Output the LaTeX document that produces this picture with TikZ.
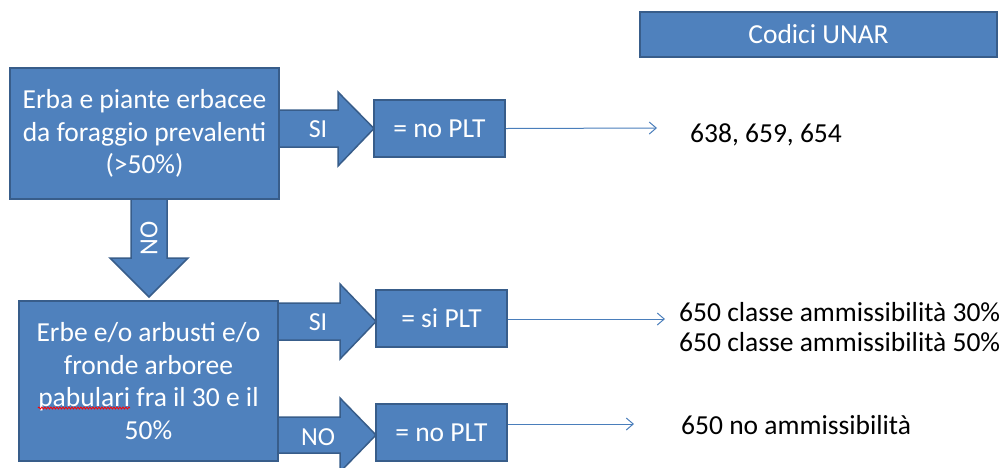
\documentclass[tikz,border=0pt]{standalone}
\usepackage{fontspec}
\setmainfont{Carlito}
\usetikzlibrary{arrows.meta,decorations.pathmorphing}
\definecolor{boxblue}{HTML}{4F81BD}
\definecolor{boxline}{HTML}{385D8A}
\definecolor{thinline}{HTML}{4A7EBB}
\tikzset{
  box/.style={draw=boxline, fill=boxblue, line width=2pt, text=white, align=center, inner sep=0pt, font=\fontsize{27.5}{32.5}\selectfont},
  blockarrow/.style={draw=boxline, fill=boxblue, line width=1.5pt, line join=miter},
  thinarrow/.style={draw=thinline, line width=1pt, -{Straight Barb[length=7pt,width=12pt]}},
  plain/.style={anchor=west, inner sep=0pt, font=\fontsize{27.5}{30}\selectfont, align=left},
  arrowlabel/.style={text=white, inner sep=0pt, font=\fontsize{26}{28}\selectfont},
  spell/.style={draw=red, line width=0.8pt, decorate, decoration={snake, amplitude=1pt, segment length=3pt}}
}
\begin{document}
\begin{tikzpicture}[x=1pt,y=-1pt]
\useasboundingbox (0,0) rectangle (1003,467);
% block arrows
\draw[blockarrow] (279,110) -- (338,110) -- (338,92) -- (374,128.5) -- (338,166) -- (338,147) -- (279,147) -- cycle;
\draw[blockarrow] (131,199) -- (131,258) -- (110,258) -- (149,297) -- (188,258) -- (167,258) -- (167,199) -- cycle;
\draw[blockarrow] (278,303) -- (340,303) -- (340,284) -- (376,321.5) -- (340,359) -- (340,340) -- (278,340) -- cycle;
\draw[blockarrow] (278,417) -- (340,417) -- (340,398) -- (376,435) -- (340,472) -- (340,453) -- (278,453) -- cycle;
% boxes
\node[box, minimum width=269pt, minimum height=131pt] (q1) at (144.5,133.5) {Erba e piante erbacee\\da foraggio prevalenti\\(>50\%)};
\node[box, minimum width=259pt, minimum height=160pt] (q2) at (148.5,381) {Erbe e/o arbusti e/o\\fronde arboree\\pabulari fra il 30 e il\\50\%};
\node[box, minimum width=131pt, minimum height=57pt] (r1) at (439.5,128.5) {= no PLT};
\node[box, minimum width=131pt, minimum height=57pt] (r2) at (441.5,318.5) {= si PLT};
\node[box, minimum width=131pt, minimum height=57pt] (r3) at (441.5,432.5) {= no PLT};
\node[box, minimum width=357pt, minimum height=45pt] (cod) at (818.5,34.5) {Codici UNAR};
\draw[spell] (38,408) -- (130,408);
% arrow labels
\node[arrowlabel] (l1) at (318,129) {SI};
\node[arrowlabel, rotate=90] (l2) at (149,238) {NO};
\node[arrowlabel] (l3) at (318,322) {SI};
\node[arrowlabel] (l4) at (318,437) {NO};
% result texts
\node[plain] (t1) at (690,135) {638, 659, 654};
\node[plain] (t2) at (679,327) {650 classe ammissibilità 30\%\\650 classe ammissibilità 50\%};
\node[plain] (t3) at (681,425) {650 no ammissibilità};
\coordinate (e1) at (657,128);
\coordinate (e2) at (665,319);
\coordinate (e3) at (634,424);
\draw[thinarrow] (r1.east) -- (e1);
\draw[thinarrow] (r2.east |- e2) -- (e2);
\draw[thinarrow] (r3.east |- e3) -- (e3);
\end{tikzpicture}
\end{document}
